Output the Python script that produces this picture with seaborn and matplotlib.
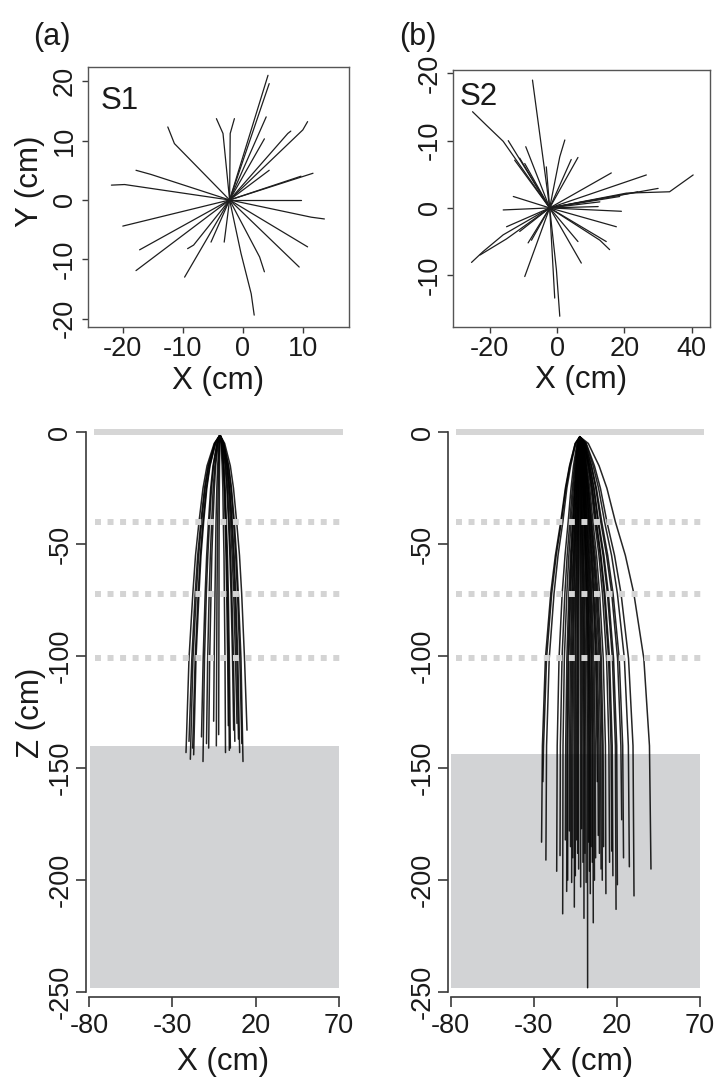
import matplotlib
matplotlib.use("Agg")
import matplotlib.pyplot as plt
import pandas as pd
import seaborn as sns

# ---- data ----
# top view: root tips, with a bend point where the trace curves
s1_top_origin = (-2.2, 0.0)
s1_top = [
    [(4.2, 21.0)], [(4.4, 19.6)], [(3.9, 14.0)], [(3.6, 10.3)],
    [(10.0, 11.8), (10.8, 13.2)], [(7.5, 11.2), (8.0, 11.6)], [(4.4, 5.0)],
    [(11.7, 4.5)], [(9.7, 4.0)], [(9.7, 0.0)], [(11.4, -2.9), (13.6, -3.2)],
    [(10.8, -7.9)], [(9.4, -11.3)], [(2.8, -9.6), (3.6, -12.1)],
    [(-0.3, -9.0), (1.4, -15.8), (1.9, -19.4)], [(-3.1, -7.1)], [(-5.3, -7.1)],
    [(-8.2, -7.6), (-9.2, -8.2)], [(-9.7, -13.0)], [(-17.8, -11.9)],
    [(-17.2, -8.4)], [(-20.0, -4.4)], [(-19.7, 2.6), (-21.9, 2.5)],
    [(-15.3, 4.3), (-17.8, 5.0)], [(-11.4, 9.5), (-12.5, 12.3)],
    [(-3.3, 11.2), (-4.4, 13.7)], [(-2.1, 11.2), (-1.4, 13.7)],
]

s2_top_origin = (-2.2, 0.0)
s2_top = [
    [(-7.3, -19.0)], [(-16.0, -9.9), (-21.0, -12.3), (-25.1, -14.3)],
    [(-14.5, -10.0)], [(-12.6, -7.1)], [(-9.6, -6.6)], [(-9.3, -9.1)],
    [(-11.1, -7.4)], [(-3.2, -6.1)], [(0.8, -7.6), (2.3, -10.1)],
    [(6.2, -7.5)], [(4.2, -7.2)], [(16.1, -5.2)], [(26.5, -4.9)],
    [(20.6, -2.2), (33.4, -2.4), (40.4, -4.9)], [(30.0, -2.9)], [(24.0, -2.4)],
    [(18.6, -1.7)], [(19.1, 0.5)], [(12.2, -0.2)], [(12.7, -0.9)],
    [(17.6, 2.8)], [(12.7, 4.8), (15.6, 6.2)], [(14.6, 5.0)], [(7.2, 8.2)],
    [(6.2, 5.0)], [(-0.2, 9.2), (0.8, 16.1)], [(-0.7, 13.4)], [(-9.6, 10.2)],
    [(-8.6, 5.2)], [(-16.0, 4.0), (-22.0, 6.5), (-25.4, 8.1)],
    [(-15.0, 4.6), (-22.9, 7.0)], [(-15.0, 2.8)], [(-11.1, 3.5)],
    [(-16.0, 0.3)], [(-13.0, -1.7)], [(-7.6, 4.8)],
]

# side view: x at the listed depths, then tip (x, z)
s1_side_origin = (-1.4, -1.2)
s1_depths = [-5, -15, -25, -40, -55, -72, -101]
s1_side = [
    (-4.9, -9.2, -11.6, -14.0, -16.1, -17.7, -20.0, -21.8, -143),
    (-4.6, -8.5, -10.7, -12.9, -14.8, -16.3, -18.3, -20.0, -138),
    (-4.4, -8.2, -10.3, -12.4, -14.2, -15.6, -17.6, -19.2, -146),
    (-4.2, -7.6, -9.6, -11.6, -13.2, -14.5, -16.3, -17.8, -141),
    (-4.1, -7.4, -9.3, -11.2, -12.8, -14.0, -15.8, -17.2, -144),
    (-3.3, -5.6, -7.0, -8.3, -9.4, -10.3, -11.5, -12.5, -136),
    (-3.1, -5.3, -6.5, -7.7, -8.7, -9.6, -10.7, -11.6, -147),
    (-2.8, -4.5, -5.5, -6.4, -7.2, -7.9, -8.8, -9.5, -139),
    (-2.6, -4.0, -4.8, -5.6, -6.3, -6.8, -7.6, -8.2, -141),
    (-2.0, -2.8, -3.3, -3.8, -4.1, -4.4, -4.9, -5.2, -129),
    (-1.8, -2.2, -2.5, -2.8, -3.0, -3.2, -3.4, -3.6, -140),
    (-1.5, -1.7, -1.8, -1.9, -2.0, -2.0, -2.1, -2.2, -135),
    (-0.8, -0.1, 0.3, 0.6, 1.0, 1.2, 1.6, 1.9, -143),
    (-0.5, 0.5, 1.1, 1.7, 2.2, 2.6, 3.2, 3.6, -131),
    (-0.4, 0.7, 1.4, 2.1, 2.6, 3.1, 3.7, 4.2, -142),
    (-0.3, 1.0, 1.7, 2.4, 3.1, 3.6, 4.2, 4.8, -141),
    (0.0, 1.7, 2.7, 3.7, 4.5, 5.2, 6.1, 6.8, -133),
    (0.1, 2.0, 3.1, 4.1, 5.0, 5.7, 6.7, 7.5, -138),
    (0.3, 2.5, 3.7, 4.9, 5.9, 6.8, 7.9, 8.8, -130),
    (0.5, 2.8, 4.2, 5.5, 6.6, 7.5, 8.7, 9.7, -137),
    (0.6, 3.1, 4.5, 5.9, 7.1, 8.0, 9.3, 10.4, -143),
    (0.8, 3.6, 5.2, 6.7, 8.0, 9.1, 10.5, 11.7, -139),
    (0.9, 3.8, 5.5, 7.2, 8.5, 9.6, 11.2, 12.4, -147),
    (1.4, 4.8, 6.7, 8.6, 10.3, 11.6, 13.3, 14.8, -133),
]

s2_side_origin = (-2.3, -2.0)
s2_depths = [-5, -15, -25, -40, -55, -72, -101, -140]
s2_side = [
    (-5.1, -8.5, -11.0, -13.8, -17.0, -19.8, -23.0, -24.8, -25.3, -183),
    (-5.0, -8.3, -10.7, -13.4, -16.5, -19.2, -22.3, -24.1, -24.5, -156),
    (-4.7, -7.8, -10.1, -12.5, -15.4, -17.8, -20.7, -22.3, -22.7, -191),
    (-4.0, -6.1, -7.6, -9.3, -11.2, -12.9, -14.8, -15.9, -16.2, -196),
    (-3.7, -5.5, -6.8, -8.3, -9.9, -11.3, -13.0, -14.0, -14.2, -189),
    (-3.5, -5.1, -6.2, -7.5, -8.9, -10.1, -11.6, -12.4, -12.6, -215),
    (-3.3, -4.6, -5.6, -6.7, -7.9, -8.9, -10.1, -10.8, -11.0, -182),
    (-3.2, -4.4, -5.3, -6.3, -7.4, -8.3, -9.4, -10.0, -10.2, -205),
    (-3.2, -4.3, -5.1, -6.0, -7.0, -7.8, -8.9, -9.5, -9.6, -200),
    (-3.1, -4.0, -4.7, -5.5, -6.3, -7.1, -8.0, -8.5, -8.6, -178),
    (-3.0, -3.8, -4.4, -5.1, -5.9, -6.6, -7.3, -7.8, -7.9, -185),
    (-2.9, -3.6, -4.2, -4.8, -5.4, -6.0, -6.7, -7.1, -7.2, -201),
    (-2.8, -3.4, -3.9, -4.4, -5.0, -5.5, -6.1, -6.4, -6.5, -190),
    (-2.7, -3.2, -3.6, -4.0, -4.4, -4.8, -5.3, -5.5, -5.6, -212),
    (-2.6, -3.0, -3.3, -3.7, -4.0, -4.4, -4.7, -4.9, -5.0, -198),
    (-2.5, -2.8, -3.0, -3.3, -3.5, -3.7, -4.0, -4.2, -4.2, -182),
    (-2.5, -2.6, -2.8, -3.0, -3.1, -3.3, -3.5, -3.6, -3.6, -188),
    (-2.4, -2.5, -2.6, -2.7, -2.7, -2.8, -2.9, -3.0, -3.0, -195),
    (-2.2, -2.2, -2.1, -2.1, -2.0, -1.9, -1.9, -1.8, -1.8, -203),
    (-2.2, -2.0, -1.9, -1.8, -1.6, -1.5, -1.3, -1.2, -1.2, -177),
    (-2.1, -1.8, -1.6, -1.4, -1.1, -0.9, -0.6, -0.4, -0.4, -192),
    (-2.0, -1.6, -1.4, -1.1, -0.7, -0.4, 0.0, 0.2, 0.2, -217),
    (-1.9, -1.5, -1.1, -0.8, -0.3, 0.1, 0.5, 0.7, 0.8, -188),
    (-1.8, -1.3, -0.9, -0.4, 0.1, 0.6, 1.1, 1.4, 1.5, -201),
    (-1.7, -1.0, -0.5, 0.1, 0.7, 1.3, 1.9, 2.3, 2.4, -248),
    (-1.7, -0.9, -0.3, 0.4, 1.1, 1.7, 2.5, 2.9, 3.0, -183),
    (-1.6, -0.7, -0.1, 0.6, 1.4, 2.1, 2.9, 3.4, 3.5, -196),
    (-1.5, -0.6, 0.1, 0.9, 1.7, 2.5, 3.4, 3.9, 4.0, -206),
    (-1.5, -0.5, 0.3, 1.1, 2.1, 2.9, 3.8, 4.4, 4.5, -185),
    (-1.4, -0.3, 0.6, 1.5, 2.5, 3.4, 4.5, 5.1, 5.2, -192),
    (-1.3, -0.1, 0.8, 1.8, 2.9, 3.9, 5.0, 5.6, 5.8, -219),
    (-1.2, 0.1, 1.0, 2.1, 3.3, 4.4, 5.6, 6.3, 6.5, -200),
    (-1.2, 0.3, 1.3, 2.5, 3.8, 4.9, 6.3, 7.0, 7.2, -190),
    (-1.0, 0.5, 1.7, 3.0, 4.4, 5.7, 7.2, 8.0, 8.2, -156),
    (-1.0, 0.7, 1.9, 3.3, 4.8, 6.1, 7.7, 8.6, 8.8, -180),
    (-0.9, 0.9, 2.2, 3.6, 5.3, 6.7, 8.3, 9.3, 9.5, -188),
    (-0.8, 1.2, 2.6, 4.1, 5.9, 7.4, 9.2, 10.2, 10.5, -195),
    (-0.7, 1.3, 2.8, 4.5, 6.3, 8.0, 9.9, 11.1, 11.2, -200),
    (-0.6, 1.6, 3.1, 4.9, 6.9, 8.6, 10.6, 11.7, 12.0, -185),
    (-0.4, 1.9, 3.7, 5.6, 7.8, 9.6, 11.8, 13.1, 13.4, -206),
    (-0.2, 2.5, 4.5, 6.7, 9.2, 11.3, 13.8, 15.2, 15.6, -192),
    (0.0, 2.9, 5.0, 7.3, 10.0, 12.3, 15.0, 16.5, 16.9, -187),
    (0.1, 3.1, 5.3, 7.7, 10.4, 12.8, 15.6, 17.2, 17.6, -198),
    (0.3, 3.6, 6.0, 8.6, 11.7, 14.3, 17.3, 19.1, 19.5, -213),
    (0.4, 3.8, 6.3, 9.0, 12.2, 14.9, 18.0, 19.9, 20.3, -202),
    (0.7, 4.5, 7.3, 10.3, 13.8, 16.9, 20.4, 22.4, 22.9, -173),
    (0.9, 4.8, 7.7, 10.9, 14.5, 17.7, 21.4, 23.5, 24.0, -190),
    (1.3, 5.7, 9.0, 12.6, 16.8, 20.3, 24.5, 26.9, 27.5, -194),
    (1.6, 6.5, 10.1, 14.0, 18.6, 22.5, 27.0, 29.7, 30.3, -207),
    (2.8, 9.3, 14.0, 19.1, 25.1, 30.2, 36.2, 39.6, 40.5, -195),
]

# soil layers (cm): sampling depths and the top of the deep zone
layer_lines = [-40, -72, -101]
deep_top = {"S1": -140, "S2": -143.5}
deep_bottom = -248


def top_frame(origin, roots):
    rows = []
    for i, pts in enumerate(roots):
        for x, y in [origin] + pts:
            rows.append((i, x, y))
    return pd.DataFrame(rows, columns=["root", "x", "y"])


def side_frame(origin, depths, roots):
    rows = []
    for i, r in enumerate(roots):
        xs = [origin[0]] + list(r[:-1])
        zs = [origin[1]] + list(depths) + [r[-1]]
        for x, z in zip(xs, zs):
            rows.append((i, x, z))
    return pd.DataFrame(rows, columns=["root", "x", "z"])


sns.set_style("ticks")
plt.rcParams["font.family"] = ["Liberation Sans", "DejaVu Sans"]
plt.rcParams["axes.unicode_minus"] = False
ink = "#3a3a3a"
txt = "#1a1a1a"
tick_fs = 19.5
lab_fs = 22.5

W, H = 723, 1080
fig = plt.figure(figsize=(W / 100, H / 100), dpi=100)


def px_axes(l, t, r, b):
    return fig.add_axes([l / W, 1 - b / H, (r - l) / W, (b - t) / H])


ax1 = px_axes(88, 67, 349, 327)
ax2 = px_axes(453, 70, 710, 327)
ax3 = px_axes(86, 428, 344, 996.7)
ax4 = px_axes(448.3, 428, 706, 996.7)

# top views
sns.lineplot(data=top_frame(s1_top_origin, s1_top), x="x", y="y", units="root",
             estimator=None, sort=False, color="#1e1e1e", lw=0.9, ax=ax1, legend=False)
sns.lineplot(data=top_frame(s2_top_origin, s2_top), x="x", y="y", units="root",
             estimator=None, sort=False, color="#1e1e1e", lw=0.9, ax=ax2, legend=False)

ax1.set_xlim(-25.8, 17.7)
ax1.set_ylim(-21.4, 22.4)
ax1.set_xticks([-20, -10, 0, 10])
ax1.set_yticks([-20, -10, 0, 10, 20])
ax2.set_xlim(-30.9, 45.4)
ax2.set_ylim(17.7, -20.5)
ax2.set_xticks([-20, 0, 20, 40])
ax2.set_yticks([-20, -10, 0, 10])
ax2.set_yticklabels(["-20", "-10", "0", "-10"])

for ax in (ax1, ax2):
    for s in ax.spines.values():
        s.set_color("#555555")
        s.set_linewidth(1.0)
    ax.tick_params(direction="out", length=4.5, width=1.0, color=ink,
                   labelsize=tick_fs, pad=2, labelcolor=txt)
    ax.tick_params(axis="y", labelrotation=90, pad=3)
    ax.set_xlabel("X (cm)", fontsize=lab_fs, color=txt, va="center")
    ax.xaxis.set_label_coords(0.5, -0.208)

ax1.set_ylabel("Y (cm)", fontsize=lab_fs, color=txt, va="center")
ax1.yaxis.set_label_coords(-0.222, 0.56)
ax2.set_ylabel("")
ax1.text(0.05, 0.84, "S1", transform=ax1.transAxes, fontsize=lab_fs, color=txt)
ax2.text(0.026, 0.864, "S2", transform=ax2.transAxes, fontsize=lab_fs, color=txt)

# side views
for ax, key, origin, depths, roots, xl in (
        (ax3, "S1", s1_side_origin, s1_depths, s1_side, (-81.8, 73.0)),
        (ax4, "S2", s2_side_origin, s2_depths, s2_side, (-81.4, 73.6))):
    ax.axhspan(deep_bottom, deep_top[key], xmin=(-79.6 - xl[0]) / (xl[1] - xl[0]),
               xmax=(70.1 - xl[0]) / (xl[1] - xl[0]), color="#d2d3d5", lw=0, zorder=0)
    sns.lineplot(data=side_frame(origin, depths, roots), x="x", y="z", units="root",
                 estimator=None, sort=False, color="black", alpha=0.85, lw=1.1,
                 ax=ax, legend=False, zorder=2)
    ax.hlines(0, -77, 72.5, color="#d6d6d6", lw=4.3, zorder=3)
    ax.hlines(layer_lines, -76.5, 72, color="#d4d4d4", lw=4.3,
              linestyles=(0, (1.0, 1.1)), zorder=4)
    ax.set_xlim(*xl)
    ax.set_ylim(-252.0, 1.9)
    ax.set_xticks([-80, -30, 20, 70])
    ax.set_yticks([0, -50, -100, -150, -200, -250])
    sns.despine(ax=ax)
    ax.spines["left"].set_bounds(-250, 0)
    ax.spines["bottom"].set_bounds(-80, 70)
    for s in ("left", "bottom"):
        ax.spines[s].set_color(ink)
        ax.spines[s].set_linewidth(1.2)
    ax.tick_params(direction="out", length=7, width=1.2, color=ink,
                   labelsize=tick_fs, pad=5, labelcolor=txt)
    ax.tick_params(axis="y", labelrotation=90, pad=2)
    ax.set_xlabel("X (cm)", fontsize=lab_fs, color=txt, va="center")
    ax.set_ylabel("")

ax3.xaxis.set_label_coords(0.53, -0.1143)
ax4.xaxis.set_label_coords(0.54, -0.1143)
ax3.set_ylabel("Z (cm)", fontsize=lab_fs, color=txt, va="center")
ax3.yaxis.set_label_coords(-0.213, 0.5)

for ax in (ax1, ax2, ax3, ax4):
    for lab in ax.get_yticklabels():
        lab.set_va("center")

fig.text(51.7 / W, 1 - 37.5 / H, "(a)", fontsize=22, ha="center", va="center", color=txt)
fig.text(418 / W, 1 - 36.7 / H, "(b)", fontsize=22, ha="center", va="center", color=txt)

fig.savefig("out.png", dpi=100)
